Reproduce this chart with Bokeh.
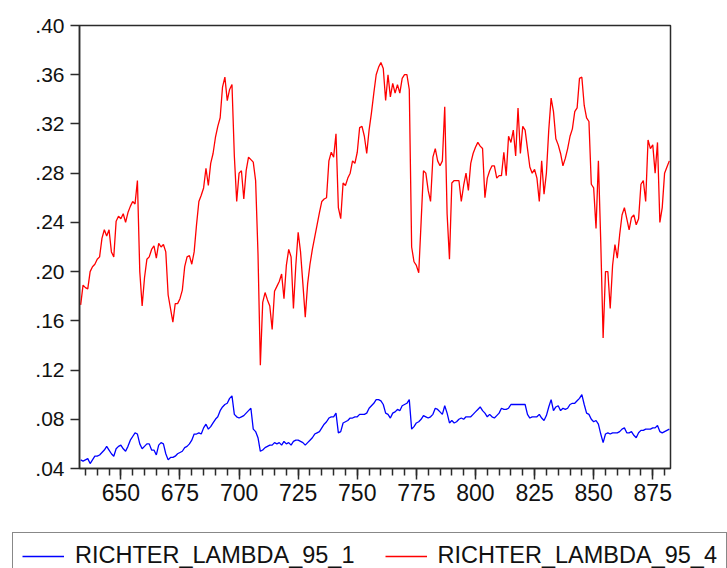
from bokeh.plotting import figure
from bokeh.layouts import column
from bokeh.models import Range1d, FixedTicker, CustomJSTickFormatter, Legend, LegendItem
from bokeh.embed import file_html
from bokeh.resources import INLINE

# observation numbers
obs = list(range(633, 883))

# RICHTER_LAMBDA_95_1 (blue)
lambda_95_1 = [
    0.047, 0.046, 0.047, 0.048, 0.044, 0.047, 0.050, 0.050, 0.051, 0.053,
    0.055, 0.058, 0.055, 0.052, 0.050, 0.056, 0.058, 0.059, 0.056, 0.054,
    0.058, 0.063, 0.066, 0.069, 0.068, 0.060, 0.056, 0.058, 0.060, 0.060,
    0.055, 0.055, 0.051, 0.059, 0.061, 0.060, 0.052, 0.047, 0.049, 0.049,
    0.050, 0.052, 0.053, 0.054, 0.057, 0.058, 0.060, 0.063, 0.068, 0.068,
    0.069, 0.068, 0.073, 0.076, 0.072, 0.074, 0.077, 0.080, 0.082, 0.087,
    0.090, 0.092, 0.093, 0.097, 0.099, 0.084, 0.082, 0.081, 0.082, 0.083,
    0.085, 0.087, 0.089, 0.072, 0.070, 0.065, 0.054, 0.055, 0.057, 0.058,
    0.059, 0.059, 0.061, 0.060, 0.061, 0.059, 0.062, 0.060, 0.061, 0.059,
    0.062, 0.063, 0.063, 0.062, 0.061, 0.059, 0.061, 0.063, 0.065, 0.068,
    0.069, 0.070, 0.073, 0.076, 0.078, 0.081, 0.082, 0.082, 0.085, 0.069,
    0.070, 0.077, 0.078, 0.079, 0.081, 0.081, 0.082, 0.082, 0.084, 0.084,
    0.084, 0.085, 0.089, 0.091, 0.093, 0.096, 0.096, 0.095, 0.092, 0.085,
    0.084, 0.081, 0.085, 0.086, 0.088, 0.087, 0.091, 0.092, 0.093, 0.096,
    0.072, 0.074, 0.077, 0.078, 0.080, 0.083, 0.082, 0.081, 0.082, 0.084,
    0.089, 0.088, 0.086, 0.084, 0.091, 0.085, 0.077, 0.079, 0.077, 0.078,
    0.080, 0.081, 0.080, 0.082, 0.082, 0.082, 0.084, 0.086, 0.088, 0.090,
    0.087, 0.085, 0.082, 0.084, 0.082, 0.081, 0.083, 0.085, 0.089, 0.088,
    0.088, 0.089, 0.092, 0.092, 0.092, 0.092, 0.092, 0.092, 0.092, 0.084,
    0.081, 0.082, 0.082, 0.082, 0.084, 0.081, 0.079, 0.083, 0.090, 0.096,
    0.087, 0.090, 0.091, 0.087, 0.089, 0.088, 0.089, 0.092, 0.093, 0.093,
    0.095, 0.097, 0.100, 0.092, 0.085, 0.084, 0.080, 0.078, 0.079, 0.076,
    0.068, 0.061, 0.068, 0.069, 0.068, 0.069, 0.069, 0.069, 0.070, 0.072,
    0.073, 0.069, 0.069, 0.070, 0.067, 0.065, 0.069, 0.071, 0.071, 0.072,
    0.072, 0.072, 0.073, 0.073, 0.075, 0.070, 0.069, 0.070, 0.071, 0.072,
]

# RICHTER_LAMBDA_95_4 (red)
lambda_95_4 = [
    0.173, 0.189, 0.187, 0.186, 0.200, 0.204, 0.206, 0.210, 0.212, 0.227,
    0.234, 0.229, 0.234, 0.216, 0.212, 0.241, 0.245, 0.243, 0.247, 0.240,
    0.248, 0.253, 0.257, 0.255, 0.274, 0.200, 0.172, 0.195, 0.210, 0.212,
    0.218, 0.221, 0.211, 0.223, 0.220, 0.222, 0.216, 0.181, 0.170, 0.159,
    0.174, 0.174, 0.178, 0.185, 0.204, 0.212, 0.213, 0.206, 0.216, 0.238,
    0.257, 0.262, 0.268, 0.284, 0.270, 0.288, 0.296, 0.309, 0.318, 0.325,
    0.350, 0.358, 0.339, 0.348, 0.352, 0.294, 0.257, 0.280, 0.282, 0.259,
    0.282, 0.293, 0.291, 0.289, 0.274, 0.215, 0.124, 0.175, 0.183, 0.177,
    0.172, 0.153, 0.184, 0.188, 0.192, 0.198, 0.178, 0.205, 0.218, 0.212,
    0.170, 0.205, 0.232, 0.216, 0.190, 0.163, 0.190, 0.206, 0.218, 0.228,
    0.238, 0.248, 0.257, 0.259, 0.260, 0.290, 0.297, 0.293, 0.312, 0.252,
    0.243, 0.272, 0.270, 0.276, 0.280, 0.290, 0.288, 0.297, 0.317, 0.318,
    0.310, 0.296, 0.315, 0.329, 0.345, 0.360, 0.366, 0.370, 0.365, 0.339,
    0.360, 0.342, 0.353, 0.345, 0.352, 0.345, 0.357, 0.360, 0.360, 0.348,
    0.220, 0.208, 0.205, 0.199, 0.240, 0.282, 0.280, 0.266, 0.257, 0.293,
    0.300, 0.290, 0.286, 0.290, 0.334, 0.247, 0.210, 0.272, 0.274, 0.274,
    0.274, 0.257, 0.270, 0.280, 0.266, 0.288, 0.296, 0.301, 0.305, 0.302,
    0.300, 0.260, 0.276, 0.282, 0.286, 0.286, 0.276, 0.278, 0.278, 0.297,
    0.278, 0.310, 0.305, 0.315, 0.294, 0.333, 0.296, 0.318, 0.315, 0.300,
    0.285, 0.280, 0.283, 0.276, 0.257, 0.290, 0.263, 0.280, 0.315, 0.341,
    0.330, 0.308, 0.303, 0.296, 0.286, 0.292, 0.300, 0.310, 0.316, 0.330,
    0.333, 0.357, 0.358, 0.335, 0.325, 0.322, 0.271, 0.268, 0.235, 0.290,
    0.224, 0.146, 0.200, 0.200, 0.170, 0.205, 0.222, 0.211, 0.230, 0.246,
    0.252, 0.243, 0.234, 0.244, 0.246, 0.238, 0.243, 0.271, 0.274, 0.257,
    0.307, 0.300, 0.303, 0.280, 0.305, 0.240, 0.252, 0.280, 0.285, 0.290,
]

series_names = ["RICHTER_LAMBDA_95_1", "RICHTER_LAMBDA_95_4"]
series_colors = ["#0000FF", "#FF0000"]
x_ticks = [650, 675, 700, 725, 750, 775, 800, 825, 850, 875]
x_minor_ticks = list(range(635, 885, 5))
y_ticks = [0.04, 0.08, 0.12, 0.16, 0.20, 0.24, 0.28, 0.32, 0.36, 0.40]

FONT = "Liberation Sans"
INK = "#2b2b2b"

# ---------------- main chart ----------------
p = figure(
    width=727, height=520,
    output_backend="svg", toolbar_location=None,
    x_range=Range1d(632.5, 882.5), y_range=Range1d(0.04, 0.40),
    min_border_left=79, min_border_right=57,
    min_border_top=25, min_border_bottom=52,
)
p.frame_align = False
p.grid.visible = False
p.background_fill_color = "white"
p.border_fill_color = "white"
p.outline_line_color = INK
p.outline_line_width = 1.5

p.line(obs, lambda_95_1, line_color=series_colors[0], line_width=1.3)
p.line(obs, lambda_95_4, line_color=series_colors[1], line_width=1.3)

xa = p.xaxis[0]
xa.ticker = FixedTicker(ticks=x_ticks, minor_ticks=x_minor_ticks)
xa.major_tick_out = 11
xa.major_tick_in = 0
xa.minor_tick_out = 7
xa.minor_tick_in = 0
xa.axis_line_color = INK
xa.axis_line_width = 1.5
xa.major_tick_line_color = INK
xa.minor_tick_line_color = INK
xa.major_tick_line_width = 1.5
xa.minor_tick_line_width = 1.5
xa.major_label_text_font = FONT
xa.major_label_text_font_size = "23px"
xa.major_label_text_color = "#111111"
xa.major_label_standoff = 4

ya = p.yaxis[0]
ya.ticker = FixedTicker(ticks=y_ticks, minor_ticks=[])
ya.formatter = CustomJSTickFormatter(code="return tick.toFixed(2).replace(/^0/, '');")
ya.major_tick_out = 9
ya.major_tick_in = 0
ya.minor_tick_out = 0
ya.minor_tick_in = 0
ya.axis_line_color = INK
ya.axis_line_width = 1.5
ya.major_tick_line_color = INK
ya.major_tick_line_width = 1.5
ya.major_label_text_font = FONT
ya.major_label_text_font_size = "21px"
ya.major_label_text_color = "#111111"
ya.major_label_standoff = 6

# ---------------- legend strip ----------------
# the same two series are drawn here on a range where they fall outside the
# strip's frame, so only their legend entries are seen
pl = figure(
    width=727, height=48,
    output_backend="svg", toolbar_location=None,
    x_range=Range1d(0, 1), y_range=Range1d(0, 1),
    x_axis_location=None, y_axis_location=None,
    min_border_left=12, min_border_right=0,
    min_border_top=12, min_border_bottom=0,
)
pl.frame_align = False
pl.grid.visible = False
pl.outline_line_color = None
pl.background_fill_color = "white"
pl.border_fill_color = "white"

k1 = pl.line(obs, lambda_95_1, line_color=series_colors[0], line_width=1.3)
k2 = pl.line(obs, lambda_95_4, line_color=series_colors[1], line_width=1.3)

legend = Legend(
    items=[
        LegendItem(label=series_names[0], renderers=[k1]),
        LegendItem(label=series_names[1], renderers=[k2]),
    ],
    orientation="horizontal",
    location="top_left",
    glyph_width=42,
    glyph_height=20,
    label_standoff=11,
    spacing=30,
    padding=9,
    margin=0,
    border_line_color="#111111",
    border_line_width=1,
    background_fill_color="white",
    background_fill_alpha=1.0,
    label_text_font=FONT,
    label_text_font_size="23.5px",
    label_text_color="#111111",
)
pl.add_layout(legend, "center")

layout = column(p, pl, spacing=0)

html = file_html(layout, INLINE)
with open("out.html", "w") as f:
    f.write(html)
